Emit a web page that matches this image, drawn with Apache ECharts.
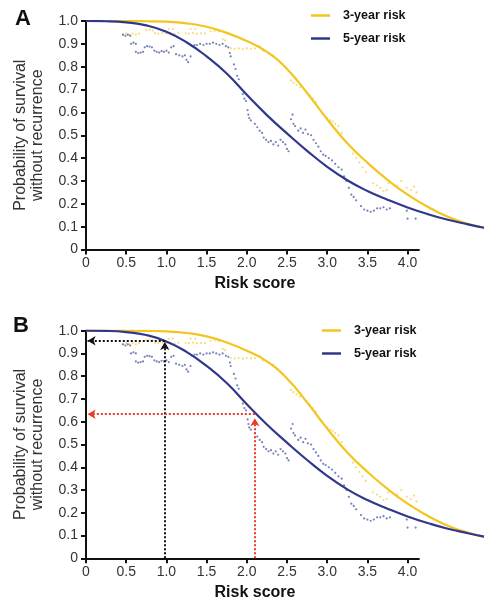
<!DOCTYPE html>
<html>
<head>
<meta charset="utf-8">
<script src="https://cdn.jsdelivr.net/npm/echarts@6/dist/echarts.min.js"></script>
<style>html,body{margin:0;padding:0;background:#fff;}#c{width:497px;height:604px;}</style>
</head>
<body>
<div id="c"></div>
<script>
// ---- data ----
const xTickValues = [0, 0.5, 1.0, 1.5, 2.0, 2.5, 3.0, 3.5, 4.0];
const xAxisLineEnd = 4.15;
const seriesNames = ['3-year risk', '5-year risk'];
const panelLabels = ['A', 'B'];

// fitted curves (risk score -> probability of survival without recurrence)
const curveX  = [0, 0.25, 0.5, 0.75, 1.0, 1.25, 1.5, 1.75, 2.0, 2.25, 2.5, 2.75, 3.0, 3.25, 3.5, 3.75, 4.0, 4.25, 4.5, 4.75, 4.95];
const risk3y  = [1.0, 1.0, 1.0, 0.999, 0.997, 0.99, 0.975, 0.948, 0.912, 0.865, 0.79, 0.685, 0.57, 0.465, 0.38, 0.305, 0.24, 0.187, 0.143, 0.113, 0.095];
const risk5y  = [1.0, 0.999, 0.994, 0.981, 0.953, 0.907, 0.845, 0.77, 0.677, 0.588, 0.508, 0.432, 0.362, 0.303, 0.256, 0.218, 0.184, 0.155, 0.13, 0.11, 0.095];

// observed points
const obs3y = [
[0.46,0.94],[0.5,0.945],[0.54,0.94],[0.58,0.945],[0.62,0.94],[0.66,0.945],
[0.75,0.96],[0.79,0.962],[0.83,0.958],
[0.86,0.946],[0.9,0.945],[0.95,0.948],[1.0,0.945],[1.05,0.946],[1.1,0.944],[1.15,0.947],
[1.03,0.965],[1.08,0.965],
[1.24,0.946],[1.28,0.945],[1.33,0.947],[1.38,0.944],[1.43,0.946],[1.48,0.945],
[1.3,0.965],[1.36,0.965],
[1.55,0.955],[1.6,0.957],[1.65,0.955],
[1.7,0.92],[1.73,0.915],
[1.8,0.88],[1.85,0.878],[1.9,0.88],[1.95,0.877],[2.0,0.88],[2.05,0.878],[2.1,0.88],
[2.16,0.89],[2.2,0.87],[2.28,0.86],[2.33,0.85],[2.38,0.83],[2.42,0.82],[2.45,0.81],
[2.55,0.74],[2.58,0.73],[2.62,0.72],[2.66,0.71],
[2.74,0.69],[2.78,0.675],[2.82,0.66],[2.86,0.645],
[3.0,0.575],[3.04,0.565],[3.07,0.56],
[3.1,0.55],[3.14,0.54],[3.18,0.51],
[3.32,0.42],[3.36,0.4],[3.4,0.38],[3.44,0.36],[3.48,0.34],
[3.57,0.29],[3.62,0.28],[3.66,0.27],[3.7,0.255],[3.74,0.26],[3.76,0.29],
[3.87,0.28],[3.92,0.3],
[3.99,0.27],[4.04,0.26],[4.08,0.275],[4.11,0.25]
];
const obs5y = [
[0.46,0.94],[0.49,0.935],[0.52,0.94],[0.55,0.935],
[0.56,0.90],[0.59,0.905],[0.62,0.90],
[0.62,0.865],[0.65,0.86],[0.68,0.862],[0.71,0.865],
[0.73,0.885],[0.76,0.89],[0.79,0.888],[0.82,0.885],
[0.85,0.87],[0.88,0.865],[0.91,0.862],[0.94,0.868],[0.97,0.865],[1.0,0.87],[1.03,0.862],
[1.06,0.885],[1.09,0.89],
[1.12,0.855],[1.16,0.85],[1.2,0.845],[1.23,0.85],
[1.25,0.83],[1.27,0.82],
[1.3,0.845],[1.32,0.89],[1.35,0.895],[1.38,0.895],[1.42,0.9],[1.46,0.895],[1.5,0.9],
[1.54,0.9],[1.58,0.905],[1.62,0.9],[1.66,0.895],[1.7,0.9],[1.74,0.89],[1.77,0.885],
[1.79,0.86],[1.8,0.845],
[1.84,0.81],[1.86,0.79],[1.88,0.76],[1.9,0.745],
[1.95,0.68],[1.97,0.66],[1.99,0.65],
[2.01,0.61],[2.02,0.59],[2.03,0.575],[2.05,0.565],
[2.1,0.55],[2.13,0.535],[2.16,0.52],[2.19,0.51],
[2.21,0.49],[2.24,0.48],[2.27,0.47],[2.3,0.475],[2.33,0.46],[2.36,0.47],[2.39,0.455],[2.42,0.48],[2.45,0.47],[2.48,0.46],[2.5,0.44],[2.52,0.43],
[2.55,0.57],[2.57,0.59],[2.58,0.55],[2.6,0.54],
[2.64,0.52],[2.67,0.53],[2.7,0.51],[2.73,0.525],[2.76,0.505],[2.8,0.5],[2.83,0.48],
[2.86,0.465],[2.89,0.45],[2.92,0.43],[2.95,0.415],[2.98,0.41],[3.02,0.4],[3.06,0.39],
[3.1,0.375],[3.14,0.36],[3.18,0.35],
[3.21,0.32],[3.24,0.3],[3.27,0.27],[3.3,0.24],[3.33,0.23],[3.36,0.215],
[3.42,0.19],[3.46,0.175],[3.5,0.17],[3.54,0.165],[3.58,0.17],[3.62,0.18],[3.66,0.18],[3.7,0.185],[3.74,0.175],[3.78,0.18],
[3.99,0.17],[4.0,0.135],[4.1,0.135]
];

// panel B guide lines
const blackGuide = { x: 0.98, yH: 0.956, yV: 0.95 };
const redGuide   = { x: 2.1,  yH: 0.633, yV: 0.615 };

// ---- styles ----
const YELLOW = '#F2C521', BLUE = '#2F388C';
const YELLOW_DOT = '#F3D35E', BLUE_DOT = '#5563AA';
const FONT = '"Liberation Sans", Arial, sans-serif';

const chart = echarts.init(document.getElementById('c'), null, { renderer: 'canvas' });

const grids = [
  { left: 86, top: 21, width: 402, height: 228.5 },
  { left: 86, top: 330.7, width: 402, height: 227.6 }
];
const fmt = v => v === 0 ? '0' : v.toFixed(1);

const xAxes = grids.map((g, i) => ({
  type: 'value', gridIndex: i, min: 0, max: 5, interval: 0.5,
  name: 'Risk score', nameLocation: 'middle', nameGap: 26,
  nameTextStyle: { fontFamily: FONT, fontSize: 16, fontWeight: 'bold', color: '#111', padding: [0, 64, 0, 0] },
  axisLine: { show: false },
  axisTick: { show: true, length: 5, lineStyle: { color: '#111', width: 2 }, customValues: xTickValues },
  axisLabel: { customValues: xTickValues, formatter: fmt, fontFamily: FONT, fontSize: 14, color: '#333', margin: 7 },
  splitLine: { show: false }
}));
const yAxes = grids.map((g, i) => ({
  type: 'value', gridIndex: i, min: 0, max: 1, interval: 0.1,
  name: 'Probability of survival\nwithout recurrence', nameLocation: 'middle', nameGap: 40, nameRotate: 90,
  nameTextStyle: { fontFamily: FONT, fontSize: 16, color: '#333', lineHeight: 17, align: 'center' },
  axisLine: { show: true, lineStyle: { color: '#111', width: 2 } },
  axisTick: { show: true, length: 5, lineStyle: { color: '#111', width: 2 } },
  axisLabel: { formatter: fmt, fontFamily: FONT, fontSize: 14, color: '#333', margin: 8 },
  splitLine: { show: false }
}));

const series = [];
[0, 1].forEach(i => {
  series.push({
    type: 'scatter', name: '3-year observed', xAxisIndex: i, yAxisIndex: i,
    data: obs3y, symbolSize: 2.2, itemStyle: { color: YELLOW_DOT }, silent: true, z: 2
  });
  series.push({
    type: 'scatter', name: '5-year observed', xAxisIndex: i, yAxisIndex: i,
    data: obs5y, symbolSize: 2.2, itemStyle: { color: BLUE_DOT }, silent: true, z: 2,
    markLine: {
      silent: true, symbol: ['none', 'none'], label: { show: false }, animation: false,
      lineStyle: { color: '#111', width: 2, type: 'solid' },
      data: [[{ coord: [0, 0] }, { coord: [xAxisLineEnd, 0] }]]
    }
  });
  series.push({
    type: 'line', name: seriesNames[0], xAxisIndex: i, yAxisIndex: i,
    data: curveX.map((x, k) => [x, risk3y[k]]), symbol: 'none', smooth: 0.5,
    lineStyle: { color: YELLOW, width: 2.2 }, itemStyle: { color: YELLOW }, z: 3
  });
  const blue = {
    type: 'line', name: seriesNames[1], xAxisIndex: i, yAxisIndex: i,
    data: curveX.map((x, k) => [x, risk5y[k]]), symbol: 'none', smooth: 0.5,
    lineStyle: { color: BLUE, width: 2.2 }, itemStyle: { color: BLUE }, z: 4
  };
  if (i === 1) {
    const dl = (c) => ({ color: c, width: 2, type: 'dotted' });
    blue.markLine = {
      silent: true, symbol: ['none', 'arrow'], symbolSize: [7, 8], label: { show: false },
      animation: false,
      data: [
        [{ coord: [blackGuide.x, 0], lineStyle: dl('#111') }, { coord: [blackGuide.x, blackGuide.yV] }],
        [{ coord: [blackGuide.x, blackGuide.yH], lineStyle: dl('#111') }, { coord: [0.02, blackGuide.yH] }],
        [{ coord: [redGuide.x, 0], lineStyle: dl('#E8392B') }, { coord: [redGuide.x, redGuide.yV] }],
        [{ coord: [redGuide.x, redGuide.yH], lineStyle: dl('#E8392B') }, { coord: [0.02, redGuide.yH] }]
      ]
    };
  }
  series.push(blue);
});

const legendBase = {
  orient: 'vertical', data: seriesNames, icon: 'rect', itemWidth: 19, itemHeight: 2.5, itemGap: 8,
  selectedMode: false,
  textStyle: { fontFamily: FONT, fontSize: 12.5, fontWeight: 'bold', color: '#111', padding: [0, 0, 0, 8], lineHeight: 15 }
};

chart.setOption({
  animation: false,
  backgroundColor: '#fff',
  grid: grids,
  xAxis: xAxes,
  yAxis: yAxes,
  legend: [
    Object.assign({}, legendBase, { left: 306, top: 3 }),
    Object.assign({}, legendBase, { left: 317, top: 318 })
  ],
  graphic: [
    { type: 'text', left: 15, top: 8, style: { text: panelLabels[0], font: 'bold 22px ' + FONT, fill: '#111' } },
    { type: 'text', left: 13, top: 315, style: { text: panelLabels[1], font: 'bold 22px ' + FONT, fill: '#111' } }
  ],
  series: series
});
</script>
</body>
</html>
